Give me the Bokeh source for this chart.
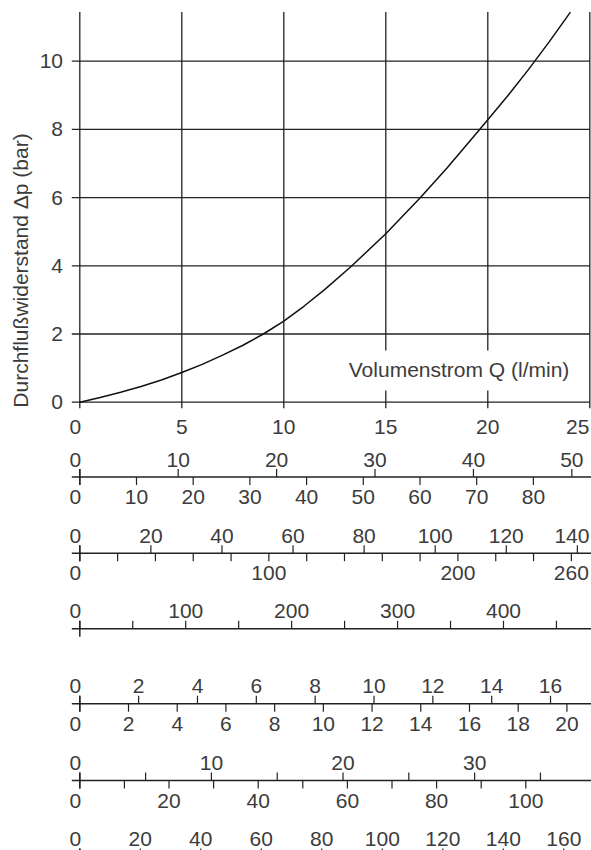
import numpy as np
from bokeh.plotting import figure
from bokeh.models import Range1d
from bokeh.core.properties import value
from bokeh.embed import file_html
from bokeh.resources import INLINE

# ---------------- data ----------------
flow_lmin = [0, 1, 2, 3, 4, 5, 6, 7, 8, 9, 10, 11, 12, 13.3, 15, 16.7, 18, 19.6, 20, 21, 22, 23, 24.05]
dp_bar = [0, 0.14, 0.29, 0.46, 0.65, 0.87, 1.11, 1.38, 1.67, 2.0, 2.38, 2.82, 3.3, 3.98, 4.94, 6.0, 6.87, 8.0, 8.28, 9.0, 9.76, 10.56, 11.44]

flow_ticks = [0, 5, 10, 15, 20, 25]
dp_ticks = [0, 2, 4, 6, 8, 10]
dp_top = 11.44
x_title = "Volumenstrom Q (l/min)"
y_title = "Durchflußwiderstand Δp (bar)"

# conversion scales below the chart (units per l/min, ticks, labels)
scale_a_top_factor = 2.073
scale_a_top_ticks = [0, 10, 20, 30, 40, 50]
scale_a_top_labels = [0, 10, 20, 30, 40, 50]
scale_a_bottom_factor = 3.598
scale_a_bottom_ticks = [0, 10, 20, 30, 40, 50, 60, 70, 80]
scale_a_bottom_labels = [0, 10, 20, 30, 40, 50, 60, 70, 80]

scale_b_top_factor = 5.74
scale_b_top_ticks = [0, 20, 40, 60, 80, 100, 120, 140]
scale_b_top_labels = [0, 20, 40, 60, 80, 100, 120, 140]
scale_b_bottom_factor = 10.79
scale_b_bottom_ticks = [0, 20, 40, 60, 80, 100, 120, 140, 160, 180, 200, 220, 240, 260]
scale_b_bottom_labels = [0, 100, 200, 260]

scale_c_factor = 19.26
scale_c_ticks = [0, 50, 100, 150, 200, 250, 300, 350, 400, 450]
scale_c_labels = [0, 100, 200, 300, 400]

scale_d_top_factor = 0.6934
scale_d_top_ticks = [0, 2, 4, 6, 8, 10, 12, 14, 16]
scale_d_top_labels = [0, 2, 4, 6, 8, 10, 12, 14, 16]
scale_d_bottom_factor = 0.8376
scale_d_bottom_ticks = [0, 2, 4, 6, 8, 10, 12, 14, 16, 18, 20]
scale_d_bottom_labels = [0, 2, 4, 6, 8, 10, 12, 14, 16, 18, 20]

scale_e_top_factor = 1.550
scale_e_top_ticks = [0, 5, 10, 15, 20, 25, 30, 35]
scale_e_top_labels = [0, 10, 20, 30]
scale_e_bottom_factor = 4.574
scale_e_bottom_ticks = [0, 10, 20, 30, 40, 50, 60, 70, 80, 90, 100]
scale_e_bottom_labels = [0, 20, 40, 60, 80, 100]

scale_f_factor = 6.744
scale_f_ticks = [0, 20, 40, 60, 80, 100, 120, 140, 160]
scale_f_labels = [0, 20, 40, 60, 80, 100, 120, 140, 160]

# ---------------- layout / style ----------------
W, H = 591, 850
Q0_PAGE = 79.3      # page x of Q = 0
Q_PX = 20.4         # px per l/min
DP0_PAGE = 401.7    # page y of dp = 0
DP_PX = 34.1        # px per bar
FONT = value("Liberation Sans")
FS = "21px"
CHAR_W = 11.7       # approx digit width at FS
LINE_C = "#222222"
TEXT_C = "#3c3c3c"
LW = 1.3
RIGHT_LIMIT = 589.0

q_start = (0 - Q0_PAGE) / Q_PX
q_end = (W - Q0_PAGE) / Q_PX
dp_end = DP0_PAGE / DP_PX
dp_start = (DP0_PAGE - H) / DP_PX


def label_offsets(vals, fac):
    """Small horizontal nudges: zero labels sit left of their tick, edge labels stay inside."""
    offs = []
    for v in vals:
        px = Q0_PAGE + Q_PX * v / fac
        half = len(str(v)) * CHAR_W / 2
        o = -4.5 if v == 0 else 0.0
        if px + half > RIGHT_LIMIT:
            o = RIGHT_LIMIT - half - px
        offs.append(o)
    return offs


# rows: (line y on page, [(scale name, factor, ticks, labels, side)])
rows = [
    (476.5, [("a_top", scale_a_top_factor, scale_a_top_ticks, scale_a_top_labels, "top"),
             ("a_bot", scale_a_bottom_factor, scale_a_bottom_ticks, scale_a_bottom_labels, "bottom")]),
    (552.7, [("b_top", scale_b_top_factor, scale_b_top_ticks, scale_b_top_labels, "top"),
             ("b_bot", scale_b_bottom_factor, scale_b_bottom_ticks, scale_b_bottom_labels, "bottom")]),
    (628.3, [("c_top", scale_c_factor, scale_c_ticks, scale_c_labels, "top")]),
    (703.3, [("d_top", scale_d_top_factor, scale_d_top_ticks, scale_d_top_labels, "top"),
             ("d_bot", scale_d_bottom_factor, scale_d_bottom_ticks, scale_d_bottom_labels, "bottom")]),
    (780.0, [("e_top", scale_e_top_factor, scale_e_top_ticks, scale_e_top_labels, "top"),
             ("e_bot", scale_e_bottom_factor, scale_e_bottom_ticks, scale_e_bottom_labels, "bottom")]),
    (856.0, [("f_top", scale_f_factor, scale_f_ticks, scale_f_labels, "top")]),
]

extra_x = {"px": Range1d(0, W)}
for _, scales in rows:
    for name, fac, *_ in scales:
        extra_x[name] = Range1d(q_start * fac, q_end * fac)

p = figure(width=W, height=H, x_range=Range1d(q_start, q_end), y_range=Range1d(dp_start, dp_end),
           output_backend="svg", toolbar_location=None, min_border=0,
           x_axis_type=None, y_axis_type=None, outline_line_color=None,
           background_fill_color="white", border_fill_color="white")
p.extra_x_ranges = extra_x
p.extra_y_ranges = {"px": Range1d(H, 0)}

# ---------------- main chart ----------------
TICK_L = 8.0 / Q_PX    # tick out on left (in l/min)
TICK_B = 6.0 / DP_PX   # tick out below (in bar)
n = len(dp_ticks)
p.segment(x0=[flow_ticks[0] - TICK_L] * n, y0=dp_ticks, x1=[flow_ticks[-1]] * n, y1=dp_ticks,
          line_color=LINE_C, line_width=LW)
m = len(flow_ticks)
p.segment(x0=flow_ticks, y0=[dp_ticks[0] - TICK_B] * m, x1=flow_ticks, y1=[dp_top] * m,
          line_color=LINE_C, line_width=LW)

p.line(flow_lmin, dp_bar, line_color="#111111", line_width=1.5)

# x-title box (white background interrupts the grid)
p.quad(left=[12.78], right=[24.6], bottom=[(DP0_PAGE - 390) / DP_PX], top=[(DP0_PAGE - 350) / DP_PX],
       fill_color="white", line_color=None)
p.text(x=[18.59], y=[(DP0_PAGE - 368.5) / DP_PX], text=[x_title], text_align="center",
       text_baseline="middle", text_font=FONT, text_font_size=FS, text_color=TEXT_C)

# tick labels
p.text(x=[0] * n, y=dp_ticks, text=[str(v) for v in dp_ticks], x_offset=-16.8,
       text_align="right", text_baseline="middle", text_font=FONT, text_font_size=FS, text_color=TEXT_C)
p.text(x=flow_ticks, y=[0] * m, text=[str(v) for v in flow_ticks], y_offset=25,
       x_offset=label_offsets(flow_ticks, 1.0),
       text_align="center", text_baseline="middle", text_font=FONT, text_font_size=FS, text_color=TEXT_C)

# y title
p.text(x=[20], y=[270], text=[y_title], angle=np.pi / 2, text_align="center", text_baseline="middle",
       x_range_name="px", y_range_name="px", text_font=FONT, text_font_size=FS, text_color=TEXT_C)

# ---------------- conversion scales ----------------
ST = 8.0
for line_y, scales in rows:
    p.segment(x0=[Q0_PAGE - 8], y0=[line_y], x1=[W], y1=[line_y], x_range_name="px",
              y_range_name="px", line_color=LINE_C, line_width=1.5)
    first = scales[0]
    # zero mark crosses the line
    p.segment(x0=[0], y0=[line_y - ST], x1=[0], y1=[line_y + ST], x_range_name=first[0],
              y_range_name="px", line_color=LINE_C, line_width=1.5)
    for name, fac, ticks, labels, side in scales:
        k = len(ticks)
        sgn = -1 if side == "top" else 1
        p.segment(x0=ticks, y0=[line_y] * k, x1=ticks, y1=[line_y + sgn * ST] * k,
                  x_range_name=name, y_range_name="px", line_color=LINE_C, line_width=1.2)
        ly = line_y - 17.5 if side == "top" else line_y + 20
        j = len(labels)
        p.text(x=labels, y=[ly] * j, text=[str(v) for v in labels],
               x_offset=label_offsets(labels, fac),
               x_range_name=name, y_range_name="px", text_align="center", text_baseline="middle",
               text_font=FONT, text_font_size=FS, text_color=TEXT_C)

open("out.html", "w").write(file_html(p, INLINE))
